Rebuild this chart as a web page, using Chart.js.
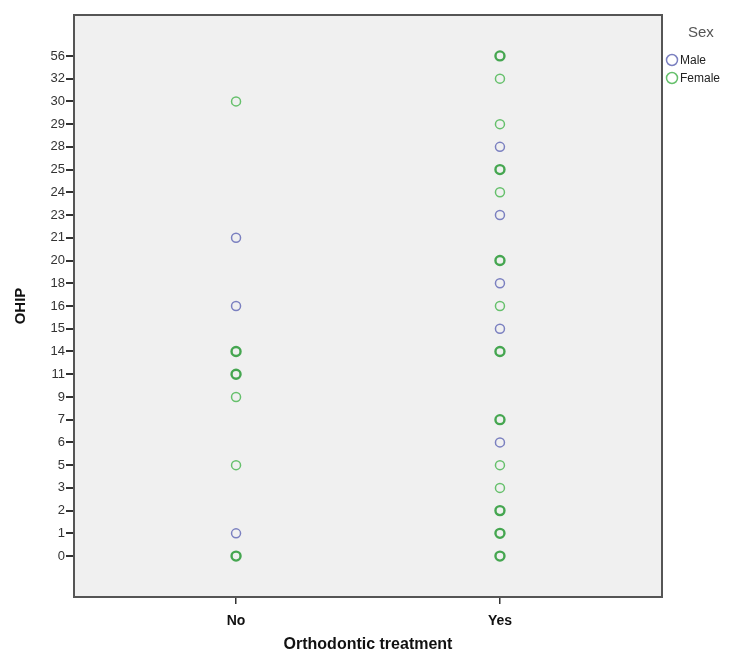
<!DOCTYPE html>
<html>
<head>
<meta charset="utf-8">
<script src="https://cdn.jsdelivr.net/npm/chart.js@4/dist/chart.umd.min.js"></script>
<style>
  html, body { margin: 0; padding: 0; background: #fff; }
  #wrap { position: relative; width: 732px; height: 655px; }
</style>
</head>
<body>
<div id="wrap"><canvas id="chart" width="732" height="655"></canvas></div>
<script>
// 縦軸のカテゴリ（OHIP値、等間隔）
const ohipLabels = ['0', '1', '2', '3', '5', '6', '7', '9', '11', '14', '15', '16', '18', '20', '21', '23', '24', '25', '28', '29', '30', '32', '56'];
// 横軸のカテゴリ
const treatLabels = ['No', 'Yes'];

// 各グループのOHIP値
const maleNo = ['21', '16', '1'];
const femaleNo = ['30', '14', '11', '9', '5', '0'];
const maleYes = ['28', '23', '18', '15', '6'];
const femaleYes = ['56', '32', '29', '25', '24', '20', '16', '14', '7', '5', '3', '2', '1', '0'];
// 重なった点（太く見えるもの）
const femaleNoBold = ['14', '11', '0'];
const femaleYesBold = ['56', '25', '20', '14', '7', '2', '1', '0'];

const MALE = '#7b80c0';
const FEMALE = '#66c06c';
const FEMALE_DARK = '#45a650';

function toPoints(list, xIndex) {
    return list.map(v => ({ x: xIndex, y: ohipLabels.indexOf(v) }));
}
function widths(list, bold) {
    return list.map(v => bold.includes(v) ? 2.4 : 1.5);
}
function colours(list, bold) {
    return list.map(v => bold.includes(v) ? FEMALE_DARK : FEMALE);
}

const datasets = [
    { label: 'Male', data: toPoints(maleNo, 0), pointBorderColor: MALE, pointBorderWidth: 1.5 },
    { label: 'Female', data: toPoints(femaleNo, 0), pointBorderColor: colours(femaleNo, femaleNoBold), pointBorderWidth: widths(femaleNo, femaleNoBold) },
    { label: 'Male', data: toPoints(maleYes, 1), pointBorderColor: MALE, pointBorderWidth: 1.5 },
    { label: 'Female', data: toPoints(femaleYes, 1), pointBorderColor: colours(femaleYes, femaleYesBold), pointBorderWidth: widths(femaleYes, femaleYesBold) }
].map(ds => ({
    ...ds,
    backgroundColor: 'rgba(0,0,0,0)',
    pointBackgroundColor: 'rgba(0,0,0,0)',
    pointRadius: 4.5,
    pointHoverRadius: 4.5,
    showLine: false
}));

// 背景・枠・凡例を描くプラグイン
const spssFrame = {
    id: 'spssFrame',
    beforeDraw(chart) {
        const { ctx, chartArea: a } = chart;
        ctx.save();
        ctx.fillStyle = '#f0f0f0';
        ctx.fillRect(a.left, a.top, a.right - a.left, a.bottom - a.top);
        ctx.restore();
    },
    afterDraw(chart) {
        const { ctx, chartArea: a } = chart;
        ctx.save();
        ctx.strokeStyle = '#555';
        ctx.lineWidth = 2;
        ctx.strokeRect(a.left, a.top, a.right - a.left, a.bottom - a.top);

        // 凡例
        ctx.fillStyle = '#555';
        ctx.font = '15px Arial, "Liberation Sans", sans-serif';
        ctx.textBaseline = 'middle';
        ctx.fillText('Sex', 688, 33);
        const items = [['Male', MALE, 60], ['Female', FEMALE, 78]];
        ctx.font = '12px Arial, "Liberation Sans", sans-serif';
        items.forEach(([txt, col, y]) => {
            ctx.beginPath();
            ctx.strokeStyle = col;
            ctx.lineWidth = 1.5;
            ctx.arc(672, y, 5.5, 0, Math.PI * 2);
            ctx.stroke();
            ctx.fillStyle = '#222';
            ctx.fillText(txt, 680, y + 1);
        });
        ctx.restore();
    }
};

new Chart(document.getElementById('chart'), {
    type: 'scatter',
    data: { datasets },
    options: {
        responsive: false,
        animation: false,
        layout: { padding: { top: 15, right: 70, left: 12, bottom: 0 } },
        plugins: { legend: { display: false }, tooltip: { enabled: false } },
        scales: {
            x: {
                type: 'linear',
                min: -0.614,
                max: 1.614,
                afterBuildTicks: s => { s.ticks = treatLabels.map((_, i) => ({ value: i })); },
                afterFit: s => { s.height = 58; },
                ticks: {
                    callback: v => treatLabels[v],
                    color: '#111',
                    font: { family: 'Arial, "Liberation Sans", sans-serif', size: 14, weight: 'bold' },
                    padding: 9
                },
                grid: { drawOnChartArea: false, tickLength: 7, color: '#333', lineWidth: 1.5 },
                border: { display: false },
                title: {
                    display: true,
                    text: 'Orthodontic treatment',
                    color: '#111',
                    font: { family: 'Arial, "Liberation Sans", sans-serif', size: 16, weight: 'bold' },
                    padding: { top: 2, bottom: 1 }
                }
            },
            y: {
                type: 'linear',
                min: -1.8,
                max: 23.8,
                afterBuildTicks: s => { s.ticks = ohipLabels.map((_, i) => ({ value: i })); },
                afterFit: s => { s.width = 62; },
                ticks: {
                    callback: v => ohipLabels[v],
                    color: '#333',
                    font: { family: 'Arial, "Liberation Sans", sans-serif', size: 13 },
                    padding: 1
                },
                grid: { drawOnChartArea: false, tickLength: 8, color: '#333', lineWidth: 2 },
                border: { display: false },
                title: {
                    display: true,
                    text: 'OHIP',
                    color: '#111',
                    font: { family: 'Arial, "Liberation Sans", sans-serif', size: 15, weight: 'bold' },
                    padding: { top: 0, bottom: 6 }
                }
            }
        }
    },
    plugins: [spssFrame]
});
</script>
</body>
</html>
